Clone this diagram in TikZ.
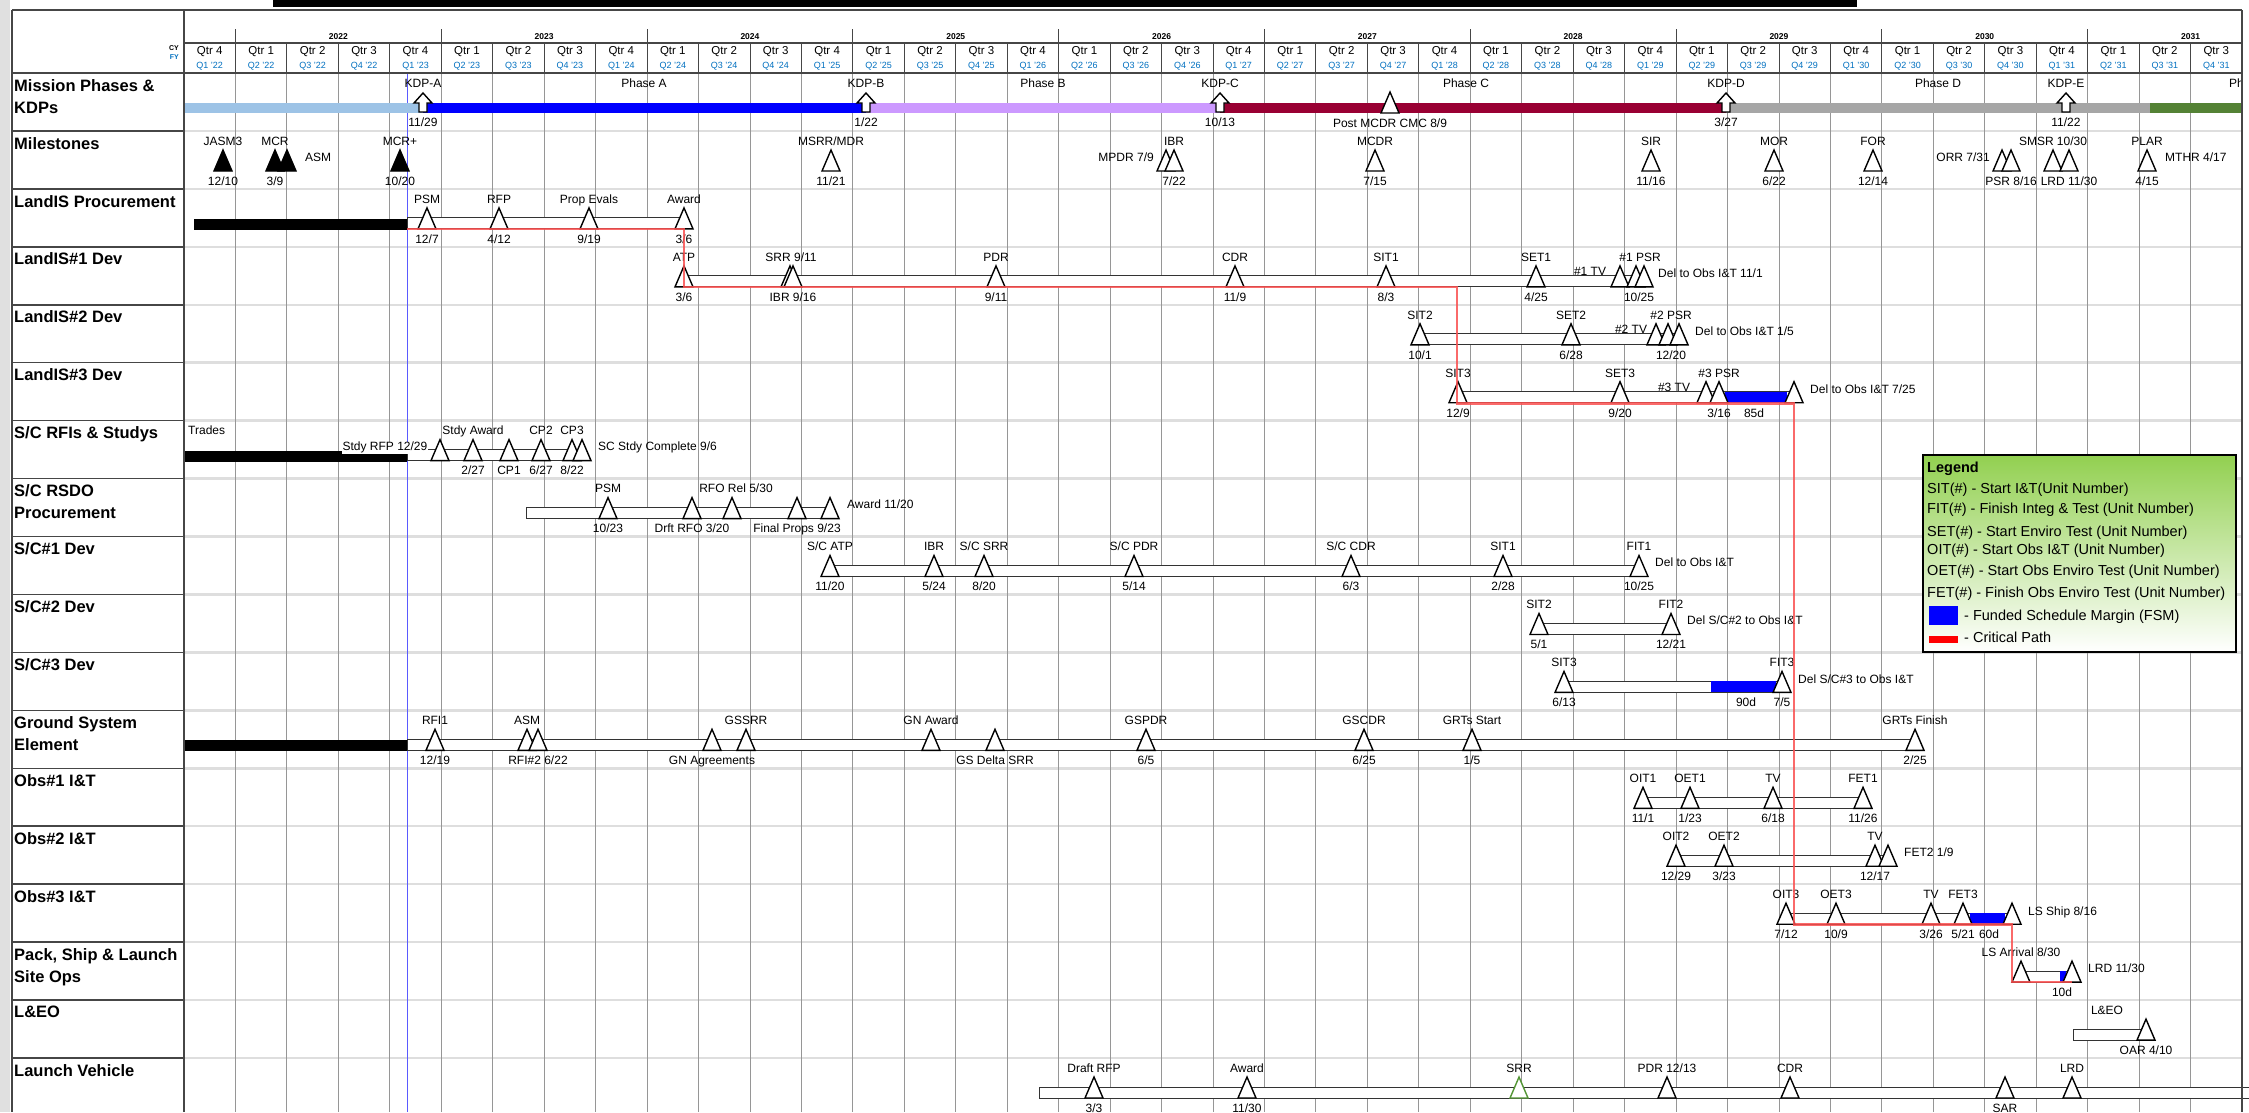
\documentclass[tikz,border=0pt]{standalone}
\usepackage{fontspec}
\setmainfont{Liberation Sans}
\definecolor{lblue}{RGB}{157,195,230}
\definecolor{pblue}{RGB}{0,0,255}
\definecolor{lilac}{RGB}{204,153,255}
\definecolor{dred}{RGB}{153,0,51}
\definecolor{pgray}{RGB}{166,166,166}
\definecolor{pgreen}{RGB}{84,130,53}
\definecolor{qblue}{RGB}{0,112,192}
\definecolor{crit}{RGB}{250,80,80}
\definecolor{lgreen}{RGB}{146,208,80}
\definecolor{gridv}{RGB}{150,150,150}
\definecolor{gridh}{RGB}{222,222,222}
\definecolor{framec}{RGB}{70,70,70}
\definecolor{today}{RGB}{90,90,255}
\definecolor{srrgreen}{RGB}{84,150,53}
\newcounter{lbl}
\newcommand\Lc[3]{\stepcounter{lbl}\node[lab,anchor=base] (L\arabic{lbl}) at (#1,#2) {#3};}
\newcommand\Lw[3]{\stepcounter{lbl}\node[lab,anchor=base west] (L\arabic{lbl}) at (#1,#2) {#3};}
\newcommand\Le[3]{\stepcounter{lbl}\node[lab,anchor=base east] (L\arabic{lbl}) at (#1,#2) {#3};}
\newcommand\ms[4][tri]{\draw[#1] ({#2-9},40) -- ({#2},19) -- ({#2+9},40) -- cycle;
  \Lc{#2}{14.3}{#3}\Lc{#2}{54.3}{#4}}
\newcommand\kdp[3]{\draw[tri] (#1,20) -- ({#1+9},30) -- ({#1+4},30) -- ({#1+4},39) -- ({#1-4},39) -- ({#1-4},30) -- ({#1-9},30) -- cycle;
  \Lc{#1}{14.3}{#2}\Lc{#1}{53.3}{#3}}
\newcommand\wbar[2]{\draw[wbarst] (#1,29) rectangle (#2,40);}
\newcommand\bbar[2]{\fill[black] (#1,30) rectangle (#2,41);}
\newcommand\fsm[2]{\fill[pblue] (#1,29) rectangle (#2,40);}
\newcommand\rowlabel[3]{\node[rowlab] (#1) at (14,{73+57.94*#2+6}) {#3};}
\tikzset{
 lab/.style={font=\fontsize{12}{14}\selectfont, inner sep=0pt},
 tri/.style={draw=black, fill=white, line width=1.4pt},
 wbarst/.style={draw=black!80, fill=white, line width=1pt},
 rowlab/.style={font=\fontsize{16.5}{22}\selectfont\bfseries, anchor=north west, align=left, inner sep=0pt},
 qlab/.style={font=\fontsize{11.5}{12}\selectfont, inner sep=0pt},
 fylab/.style={font=\fontsize{9}{10}\selectfont, text=qblue, inner sep=0pt},
 yearlab/.style={font=\fontsize{8.5}{9}\selectfont\bfseries, inner sep=0pt},
 framel/.style={draw=framec, line width=1.8pt},
 critpath/.style={draw=crit, line width=2.8pt, opacity=0.85},
 leg/.style={font=\fontsize{14.5}{16}\selectfont, inner sep=0pt, anchor=base west},
}
\begin{document}
\begin{tikzpicture}[x=1pt,y=-1pt]
\useasboundingbox (0,0) rectangle (2249,1112);
\clip (0,0) rectangle (2249,1112);
\fill[white] (0,0) rectangle (2249,1112);
\fill[black!12] (0,0) rectangle (10,1112);
\fill[black] (273,0) rectangle (1857,7);
% ---------- grid
\foreach \i in {1,...,17}{
  \draw[gridh, line width=2.5pt] (184,{73+57.94*\i}) -- (2242,{73+57.94*\i});
  \draw[framec, line width=1.5pt] (12,{73+57.94*\i}) -- (184,{73+57.94*\i});
}
\foreach \k in {1,...,39}{
  \draw[gridv, line width=0.9pt] ({184+51.45*\k},73) -- ({184+51.45*\k},1112);
  \draw[framec, line width=0.9pt] ({184+51.45*\k},43) -- ({184+51.45*\k},73);
}
\foreach \k in {1,5,...,37}{
  \draw[framec, line width=0.9pt] ({184+51.45*\k},29) -- ({184+51.45*\k},43);
}
\draw[today, line width=1pt] (407,73) -- (407,1112);
% ---------- header
\foreach \yr [count=\i from 0] in {2022,2023,2024,2025,2026,2027,2028,2029,2030,2031}{
  \node[yearlab] (y\yr) at ({184+51.45*(3+4*\i)},37) {\yr};
}
\foreach \k in {0,...,39}{
  \pgfmathsetmacro\xc{184+51.45*(\k+0.5)}
  \pgfmathtruncatemacro\cq{mod(\k+3,4)+1}
  \pgfmathtruncatemacro\fq{mod(\k,4)+1}
  \pgfmathtruncatemacro\fy{22+floor(\k/4)}
  \node[qlab] (q\k) at (\xc,52) {Qtr \cq};
  \node[fylab] (f\k) at (\xc,66) {Q\fq\ '\fy};
}
\node[font=\fontsize{7}{8}\selectfont\bfseries, anchor=east, inner sep=0pt] (cy) at (179,48) {CY};
\node[font=\fontsize{7}{8}\selectfont\bfseries, anchor=east, inner sep=0pt, text=qblue] (fy) at (179,57) {FY};
\draw[framel] (12,10) -- (2242,10);
\draw[framel] (184,43) -- (2242,43);
\draw[framel] (12,73) -- (2242,73);
% ---------- row labels
\rowlabel{r0}{0}{Mission Phases \&\\KDPs}
\rowlabel{r1}{1}{Milestones}
\rowlabel{r2}{2}{LandIS Procurement}
\rowlabel{r3}{3}{LandIS\#1 Dev}
\rowlabel{r4}{4}{LandIS\#2 Dev}
\rowlabel{r5}{5}{LandIS\#3 Dev}
\rowlabel{r6}{6}{S/C RFIs \& Studys}
\rowlabel{r7}{7}{S/C RSDO\\Procurement}
\rowlabel{r8}{8}{S/C\#1 Dev}
\rowlabel{r9}{9}{S/C\#2 Dev}
\rowlabel{r10}{10}{S/C\#3 Dev}
\rowlabel{r11}{11}{Ground System\\Element}
\rowlabel{r12}{12}{Obs\#1 I\&T}
\rowlabel{r13}{13}{Obs\#2 I\&T}
\rowlabel{r14}{14}{Obs\#3 I\&T}
\rowlabel{r15}{15}{Pack, Ship \& Launch\\Site Ops}
\rowlabel{r16}{16}{L\&EO}
\rowlabel{r17}{17}{Launch Vehicle}
% ---------- row 0 : mission phases
\begin{scope}[shift={(0,73)}]
 \fill[lblue] (184,29.7) rectangle (423,40.3);
 \fill[pblue] (423,29.7) rectangle (866,40.3);
 \fill[lilac] (866,29.7) rectangle (1220,40.3);
 \fill[dred] (1220,29.7) rectangle (1726,40.3);
 \fill[pgray] (1726,29.7) rectangle (2150,40.3);
 \fill[pgreen] (2150,29.7) rectangle (2242,40.3);
 \Lc{644}{14.3}{Phase A}
 \Lc{1043}{14.3}{Phase B}
 \Lc{1466}{14.3}{Phase C}
 \Lc{1938}{14.3}{Phase D}
 \Lw{2229}{14.3}{Ph}
 \kdp{423}{KDP-A}{11/29}
 \kdp{866}{KDP-B}{1/22}
 \kdp{1220}{KDP-C}{10/13}
 \kdp{1726}{KDP-D}{3/27}
 \kdp{2066}{KDP-E}{11/22}
 \ms{1390}{}{Post MCDR CMC 8/9}
\end{scope}
% ---------- row 1 : milestones
\begin{scope}[shift={(0,131)}]
 \ms[tri,fill=black]{223}{JASM3}{12/10}
 \ms[tri,fill=black]{275}{MCR}{3/9}
 \ms[tri,fill=black]{287}{}{}
 \Lw{305}{30.3}{ASM}
 \ms[tri,fill=black]{400}{MCR+}{10/20}
 \ms{831}{MSRR/MDR}{11/21}
 \ms{1166}{}{}
 \Le{1154}{30.3}{MPDR 7/9}
 \ms{1174}{IBR}{7/22}
 \ms{1375}{MCDR}{7/15}
 \ms{1651}{SIR}{11/16}
 \ms{1774}{MOR}{6/22}
 \ms{1873}{FOR}{12/14}
 \ms{2002}{}{}
 \Le{1990}{30.3}{ORR 7/31}
 \ms{2011}{}{PSR 8/16}
 \ms{2053}{SMSR 10/30}{}
 \ms{2069}{}{LRD 11/30}
 \ms{2147}{PLAR}{4/15}
 \Lw{2165}{30.3}{MTHR 4/17}
\end{scope}
% ---------- row 2 : LandIS procurement
\begin{scope}[shift={(0,188.9)}]
 \bbar{194}{407}
 \wbar{407}{684}
 \ms{427}{PSM}{12/7}
 \ms{499}{RFP}{4/12}
 \ms{589}{Prop Evals}{9/19}
 \ms{684}{Award}{3/6}
\end{scope}
% ---------- row 3 : LandIS#1
\begin{scope}[shift={(0,246.9)}]
 \wbar{684}{1644}
 \ms{684}{ATP}{3/6}
 \ms{790}{}{}
 \ms{793}{}{}
 \Lc{791}{14.3}{SRR 9/11}
 \Lc{793}{54.3}{IBR 9/16}
 \ms{996}{PDR}{9/11}
 \ms{1235}{CDR}{11/9}
 \ms{1386}{SIT1}{8/3}
 \ms{1536}{SET1}{4/25}
 \Lc{1590}{28.5}{\#1 TV}
 \ms{1620}{}{}
 \ms{1636}{}{}
 \ms{1644}{}{}
 \Lc{1640}{14.3}{\#1 PSR}
 \Lc{1639}{54.3}{10/25}
 \Lw{1658}{30.3}{Del to Obs I\&T 11/1}
\end{scope}
% ---------- row 4 : LandIS#2
\begin{scope}[shift={(0,304.8)}]
 \wbar{1420}{1679}
 \ms{1420}{SIT2}{10/1}
 \ms{1571}{SET2}{6/28}
 \Lc{1631}{28.5}{\#2 TV}
 \ms{1656}{}{}
 \ms{1668}{}{}
 \ms{1679}{}{}
 \Lc{1671}{14.3}{\#2 PSR}
 \Lc{1671}{54.3}{12/20}
 \Lw{1695}{30.3}{Del to Obs I\&T 1/5}
\end{scope}
% ---------- row 5 : LandIS#3
\begin{scope}[shift={(0,362.7)}]
 \wbar{1458}{1794}
 \fsm{1725}{1787}
 \ms{1458}{SIT3}{12/9}
 \ms{1620}{SET3}{9/20}
 \Lc{1674}{28.5}{\#3 TV}
 \ms{1706}{}{}
 \ms{1719}{\#3 PSR}{3/16}
 \Lc{1754}{54.3}{85d}
 \ms{1794}{}{}
 \Lw{1810}{30.3}{Del to Obs I\&T 7/25}
\end{scope}
% ---------- row 6 : S/C RFIs
\begin{scope}[shift={(0,420.6)}]
 \Lw{188}{14.3}{Trades}
 \bbar{184}{407}
 \wbar{407}{582}
 \stepcounter{lbl}\node[lab,anchor=base east,fill=white,inner sep=0.5pt] (L\arabic{lbl}) at (428,30.3) {Stdy RFP 12/29};
 \ms{440}{}{}
 \ms{473}{Stdy Award}{2/27}
 \ms{509}{}{CP1}
 \ms{541}{CP2}{6/27}
 \ms{572}{CP3}{8/22}
 \ms{582}{}{}
 \Lw{598}{30.3}{SC Stdy Complete 9/6}
\end{scope}
% ---------- row 7 : S/C RSDO
\begin{scope}[shift={(0,478.6)}]
 \wbar{526}{830}
 \ms{608}{PSM}{10/23}
 \ms{692}{}{Drft RFO 3/20}
 \ms{732}{}{}
 \Lc{736}{14.3}{RFO Rel 5/30}
 \ms{797}{}{Final Props 9/23}
 \ms{830}{}{}
 \Lw{847}{30.3}{Award 11/20}
\end{scope}
% ---------- row 8 : S/C#1
\begin{scope}[shift={(0,536.5)}]
 \wbar{830}{1639}
 \ms{830}{S/C ATP}{11/20}
 \ms{934}{IBR}{5/24}
 \ms{984}{S/C SRR}{8/20}
 \ms{1134}{S/C PDR}{5/14}
 \ms{1351}{S/C CDR}{6/3}
 \ms{1503}{SIT1}{2/28}
 \ms{1639}{FIT1}{10/25}
 \Lw{1655}{30.3}{Del to Obs I\&T}
\end{scope}
% ---------- row 9 : S/C#2
\begin{scope}[shift={(0,594.5)}]
 \wbar{1539}{1671}
 \ms{1539}{SIT2}{5/1}
 \ms{1671}{FIT2}{12/21}
 \Lw{1687}{30.3}{Del S/C\#2 to Obs I\&T}
\end{scope}
% ---------- row 10 : S/C#3
\begin{scope}[shift={(0,652.4)}]
 \wbar{1564}{1782}
 \fsm{1711}{1776}
 \ms{1564}{SIT3}{6/13}
 \ms{1782}{FIT3}{7/5}
 \Lc{1746}{54.3}{90d}
 \Lw{1798}{31}{Del S/C\#3 to Obs I\&T}
\end{scope}
% ---------- row 11 : ground system
\begin{scope}[shift={(0,710.3)}]
 \bbar{184}{407}
 \wbar{407}{1915}
 \ms{435}{RFI1}{12/19}
 \ms{527}{ASM}{}
 \ms{538}{}{RFI\#2 6/22}
 \ms{712}{}{GN Agreements}
 \ms{746}{GSSRR}{}
 \ms{931}{GN Award}{}
 \ms{995}{}{GS Delta SRR}
 \ms{1146}{GSPDR}{6/5}
 \ms{1364}{GSCDR}{6/25}
 \ms{1472}{GRTs Start}{1/5}
 \ms{1915}{GRTs Finish}{2/25}
\end{scope}
% ---------- row 12 : Obs#1
\begin{scope}[shift={(0,768.3)}]
 \wbar{1643}{1863}
 \ms{1643}{OIT1}{11/1}
 \ms{1690}{OET1}{1/23}
 \ms{1773}{TV}{6/18}
 \ms{1863}{FET1}{11/26}
\end{scope}
% ---------- row 13 : Obs#2
\begin{scope}[shift={(0,826.2)}]
 \wbar{1676}{1888}
 \ms{1676}{OIT2}{12/29}
 \ms{1724}{OET2}{3/23}
 \ms{1875}{TV}{12/17}
 \ms{1888}{}{}
 \Lw{1904}{30.3}{FET2 1/9}
\end{scope}
% ---------- row 14 : Obs#3
\begin{scope}[shift={(0,884.2)}]
 \wbar{1786}{2012}
 \fsm{1970}{2005}
 \ms{1786}{OIT3}{7/12}
 \ms{1836}{OET3}{10/9}
 \ms{1931}{TV}{3/26}
 \ms{1963}{FET3}{5/21}
 \Lc{1989}{54.3}{60d}
 \ms{2012}{}{}
 \Lw{2028}{31}{LS Ship 8/16}
\end{scope}
% ---------- row 15 : pack ship
\begin{scope}[shift={(0,942.1)}]
 \wbar{2021}{2072}
 \fsm{2060}{2066}
 \ms{2021}{LS Arrival 8/30}{}
 \ms{2072}{}{}
 \Lc{2062}{54.3}{10d}
 \Lw{2088}{30.3}{LRD 11/30}
\end{scope}
% ---------- row 16 : L&EO
\begin{scope}[shift={(0,1000.1)}]
 \Lc{2107}{14.3}{L\&EO}
 \wbar{2073}{2146}
 \ms{2146}{}{OAR 4/10}
\end{scope}
% ---------- row 17 : launch vehicle
\begin{scope}[shift={(0,1058)}]
 \wbar{1039}{2250}
 \ms{1094}{Draft RFP}{3/3}
 \ms{1247}{Award}{11/30}
 \ms[tri,draw=srrgreen]{1519}{SRR}{}
 \ms{1667}{PDR 12/13}{}
 \ms{1790}{CDR}{}
 \ms{2005}{}{SAR}
 \ms{2072}{LRD}{}
\end{scope}
% ---------- frame
\draw[framel] (12,10) -- (12,1112);
\draw[framel] (2242,10) -- (2242,1112);
\draw[framel] (184,10) -- (184,1112);
% ---------- critical path
\coordinate (cpS) at (407,229);
\coordinate (cpAward) at (684,229);
\coordinate (cpATP) at (684,287);
\coordinate (cpC1) at (1457,287);
\coordinate (cpSIT3) at (1457,403.5);
\coordinate (cpDel3) at (1794,403.5);
\coordinate (cpOIT3) at (1794,924.5);
\coordinate (cpShip) at (2012,924.5);
\coordinate (cpArr) at (2012,982);
\coordinate (cpLRD) at (2072,982);
\draw[critpath] (cpS) -- (cpAward) -- (cpATP) -- (cpC1) -- (cpSIT3) -- (cpDel3) -- (cpOIT3) -- (cpShip) -- (cpArr) -- (cpLRD);
% ---------- legend
\shade[top color=lgreen, middle color=lgreen!80, bottom color=white] (1923,455) rectangle (2236,652);
\draw[black, line width=2.5pt] (1923,455) rectangle (2236,652);
\node[leg, font=\fontsize{14.5}{16}\selectfont\bfseries] (lg0) at (1927,472) {Legend};
\node[leg] (lg1) at (1927,493.5) {SIT(\#) - Start I\&T(Unit Number)};
\node[leg] (lg2) at (1927,513.5) {FIT(\#) - Finish Integ \& Test (Unit Number)};
\node[leg] (lg3) at (1927,536) {SET(\#) - Start Enviro Test (Unit Number)};
\node[leg] (lg4) at (1927,554.5) {OIT(\#) - Start Obs I\&T (Unit Number)};
\node[leg] (lg5) at (1927,575.5) {OET(\#) - Start Obs Enviro Test (Unit Number)};
\node[leg] (lg6) at (1927,597) {FET(\#) - Finish Obs Enviro Test (Unit Number)};
\fill[pblue] (1929,606) rectangle (1958,625);
\node[leg] (lg7) at (1964,620.5) {- Funded Schedule Margin (FSM)};
\fill[red] (1929,636) rectangle (1958,643);
\node[leg] (lg8) at (1964,642) {- Critical Path};
\end{tikzpicture}
\end{document}
